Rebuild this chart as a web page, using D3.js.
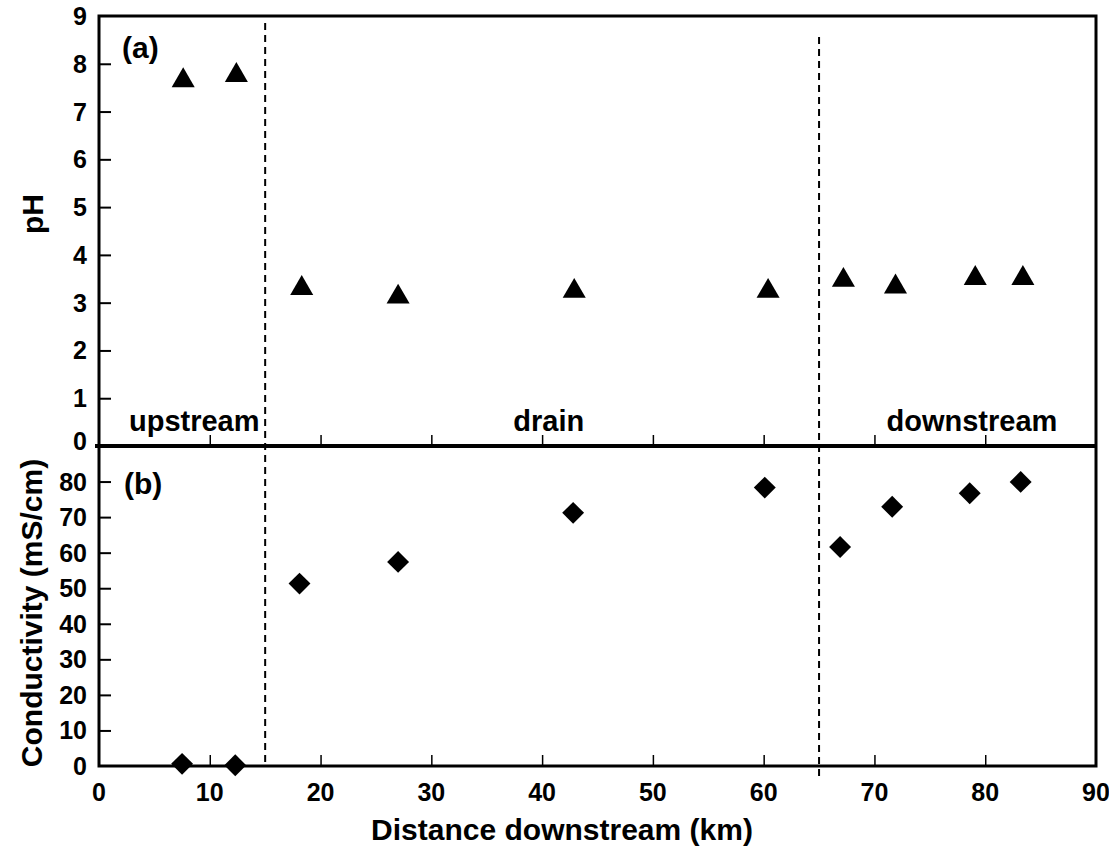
<!DOCTYPE html>
<html>
<head>
<meta charset="utf-8">
<script src="https://cdn.jsdelivr.net/npm/d3@7"></script>
<style>
  body { margin: 0; background: #fff; }
  text { font-family: "Liberation Sans", Arial, sans-serif; font-weight: bold; fill: #000; }
</style>
</head>
<body>
<div id="chart"></div>
<script>
// distance downstream (km) of each sample site
var distPH = [7.6, 12.4, 18.3, 27.0, 42.9, 60.4, 67.2, 71.9, 79.1, 83.4];
var valuesPH = [7.65, 7.76, 3.30, 3.12, 3.24, 3.24, 3.47, 3.33, 3.51, 3.51];
var distCond = [7.5, 12.3, 18.1, 27.0, 42.8, 60.1, 66.9, 71.6, 78.6, 83.2];
var valuesCond = [0.6, 0.2, 51.3, 57.4, 71.2, 78.3, 61.6, 72.9, 76.7, 79.9];
var ticksPH = [0, 1, 2, 3, 4, 5, 6, 7, 8, 9];
var ticksCond = [0, 10, 20, 30, 40, 50, 60, 70, 80];
var ticksX = [0, 10, 20, 30, 40, 50, 60, 70, 80, 90];
var dividers = [15, 65];
var zoneLabels = ["upstream", "drain", "downstream"];
var zoneCenters = [8.6, 40.6, 78.8];

var W = 1109, H = 847;
var pLeft = 99, pRight = 1096, pTop = 16, pMid = 446, pBottom = 766;

var svg = d3.select("#chart").append("svg")
	.attr("width", W).attr("height", H);

var x = d3.scaleLinear().domain([0, 90]).range([pLeft, pRight]);
var yPH = d3.scaleLinear().domain([0, 9]).range([pMid, pTop]);
var yC = d3.scaleLinear().domain([0, 90]).range([pBottom, pMid]);

//////////////////// dashed zone dividers ////////////////////
svg.append("line")
	.attr("x1", x(dividers[0])).attr("x2", x(dividers[0]))
	.attr("y1", 23).attr("y2", pBottom)
	.attr("stroke", "#000").attr("stroke-width", 2)
	.attr("stroke-dasharray", "7,5");
svg.append("line")
	.attr("x1", x(dividers[1])).attr("x2", x(dividers[1]))
	.attr("y1", 37).attr("y2", 780)
	.attr("stroke", "#000").attr("stroke-width", 2)
	.attr("stroke-dasharray", "7,5");

//////////////////// axes ////////////////////
function styleAxis(g) {
	g.selectAll(".domain").remove();
	g.selectAll(".tick line").attr("stroke", "#000").attr("stroke-width", 2);
}

// pH left axis (ticks point inward)
svg.append("g")
	.attr("transform", "translate(" + pLeft + ",0)")
	.call(d3.axisRight(yPH).tickValues(ticksPH.slice(1, -1)).tickSize(12).tickFormat(""))
	.call(styleAxis);
svg.append("g").selectAll("text")
	.data(ticksPH).enter().append("text")
	.attr("x", pLeft - 12).attr("y", function(d) { return yPH(d); })
	.attr("dy", function(d) { return d === 0 ? "0.15em" : "0.36em"; })
	.attr("text-anchor", "end")
	.style("font-size", "25px")
	.text(function(d) { return d; });

// conductivity left axis
svg.append("g")
	.attr("transform", "translate(" + pLeft + ",0)")
	.call(d3.axisRight(yC).tickValues(ticksCond.slice(1)).tickSize(12).tickFormat(""))
	.call(styleAxis);
svg.append("g").selectAll("text")
	.data(ticksCond).enter().append("text")
	.attr("x", pLeft - 12).attr("y", function(d) { return yC(d); })
	.attr("dy", "0.36em")
	.attr("text-anchor", "end")
	.style("font-size", "25px")
	.text(function(d) { return d; });

// x ticks (inward) in both panels
[pMid, pBottom].forEach(function(yy) {
	svg.append("g")
		.attr("transform", "translate(0," + yy + ")")
		.call(d3.axisTop(x).tickValues(ticksX.slice(1, -1)).tickSize(11).tickFormat(""))
		.call(styleAxis)
		.selectAll(".tick line").attr("stroke-width", 1.5);
});
svg.append("g").selectAll("text")
	.data(ticksX).enter().append("text")
	.attr("x", function(d) { return x(d); }).attr("y", pBottom + 35)
	.attr("text-anchor", "middle")
	.style("font-size", "25px")
	.text(function(d) { return d; });

// frame lines
svg.append("rect")
	.attr("x", pLeft).attr("y", pTop)
	.attr("width", pRight - pLeft).attr("height", pBottom - pTop)
	.attr("fill", "none").attr("stroke", "#000").attr("stroke-width", 3);
svg.append("line")
	.attr("x1", pLeft - 4).attr("x2", pRight)
	.attr("y1", pMid).attr("y2", pMid)
	.attr("stroke", "#000").attr("stroke-width", 4);

//////////////////// marks ////////////////////
var tri = d3.symbol().type(d3.symbolTriangle).size(230);
svg.append("g").selectAll("path")
	.data(distPH).enter().append("path")
	.attr("d", tri)
	.attr("transform", function(d, i) { return "translate(" + x(d) + "," + yPH(valuesPH[i]) + ")"; })
	.attr("fill", "#000");

var dia = d3.symbol().type(d3.symbolSquare).size(240);
svg.append("g").selectAll("path")
	.data(distCond).enter().append("path")
	.attr("d", dia)
	.attr("transform", function(d, i) { return "translate(" + x(d) + "," + yC(valuesCond[i]) + ") rotate(45)"; })
	.attr("fill", "#000");

//////////////////// labels ////////////////////
svg.append("text").attr("x", 122).attr("y", 58).style("font-size", "30px").text("(a)");
svg.append("text").attr("x", 124).attr("y", 494).style("font-size", "30px").text("(b)");

svg.append("g").selectAll("text")
	.data(zoneLabels).enter().append("text")
	.attr("x", function(d, i) { return x(zoneCenters[i]); })
	.attr("y", 431)
	.attr("text-anchor", "middle")
	.style("font-size", "29px")
	.text(function(d) { return d; });

svg.append("text")
	.attr("transform", "translate(43,214) rotate(-90)")
	.attr("text-anchor", "middle")
	.style("font-size", "30px")
	.text("pH");
svg.append("text")
	.attr("transform", "translate(42,613) rotate(-90)")
	.attr("text-anchor", "middle")
	.style("font-size", "30px")
	.text("Conductivity (mS/cm)");
svg.append("text")
	.attr("x", 562).attr("y", 840)
	.attr("text-anchor", "middle")
	.style("font-size", "30px")
	.text("Distance downstream (km)");
</script>
</body>
</html>
